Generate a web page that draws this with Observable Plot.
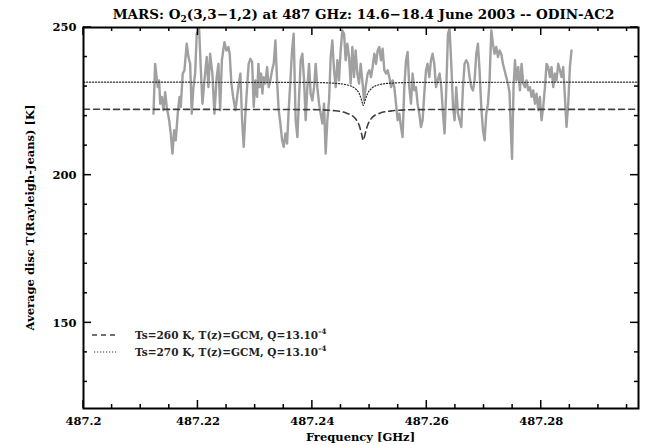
<!DOCTYPE html>
<html><head><meta charset="utf-8">
<script src="https://cdn.jsdelivr.net/npm/d3@7"></script>
<script src="https://cdn.jsdelivr.net/npm/@observablehq/plot@0.6"></script>
<style>
html,body{margin:0;padding:0;background:#fff;}
#wrap{width:653px;height:445px;}
</style></head><body><div id="wrap"></div>
<script>
// Observed spectrum (frequency GHz, brightness temperature K)
const freq = [487.21223,487.21252,487.21298,487.21322,487.21340,487.21368,487.21397,487.21427,487.21455,487.21497,
487.21525,487.21555,487.21584,487.21612,487.21647,487.21677,487.21700,487.21734,487.21764,487.21804,
487.21834,487.21864,487.21892,487.21921,487.21951,487.21979,487.22021,487.22049,487.22079,487.22114,
487.22154,487.22183,487.22213,487.22253,487.22288,487.22328,487.22358,487.22388,487.22419,487.22463,
487.22498,487.22533,487.22555,487.22585,487.22615,487.22655,487.22685,487.22713,487.22742,487.22772,
487.22800,487.22830,487.22859,487.22887,487.22917,487.22947,487.22975,487.23004,487.23034,487.23057,
487.23079,487.23104,487.23127,487.23149,487.23179,487.23209,487.23237,487.23266,487.23296,487.23324,
487.23354,487.23383,487.23411,487.23441,487.23471,487.23499,487.23528,487.23558,487.23586,487.23616,
487.23645,487.23673,487.23708,487.23738,487.23768,487.23796,487.23825,487.23855,487.23883,487.23913,
487.23942,487.23970,487.24000,487.24030,487.24058,487.24087,487.24117,487.24145,487.24175,487.24204,
487.24232,487.24262,487.24292,487.24320,487.24349,487.24379,487.24407,487.24437,487.24466,487.24494,
487.24524,487.24554,487.24582,487.24611,487.24641,487.24669,487.24699,487.24728,487.24756,487.24786,
487.24816,487.24844,487.24873,487.24903,487.24931,487.24966,487.24996,487.25025,487.25053,487.25083,
487.25113,487.25141,487.25170,487.25200,487.25228,487.25258,487.25287,487.25315,487.25345,487.25375,
487.25403,487.25432,487.25462,487.25490,487.25520,487.25549,487.25577,487.25607,487.25637,487.25665,
487.25694,487.25724,487.25752,487.25782,487.25811,487.25839,487.25869,487.25899,487.25927,487.25956,
487.25986,487.26014,487.26044,487.26073,487.26101,487.26131,487.26161,487.26189,487.26224,487.26253,
487.26283,487.26311,487.26341,487.26370,487.26398,487.26428,487.26458,487.26486,487.26515,487.26545,
487.26573,487.26603,487.26632,487.26660,487.26690,487.26720,487.26748,487.26777,487.26807,487.26835,
487.26865,487.26894,487.26922,487.26952,487.26982,487.27010,487.27039,487.27069,487.27097,487.27127,
487.27156,487.27184,487.27214,487.27244,487.27272,487.27301,487.27331,487.27359,487.27389,487.27418,
487.27446,487.27467,487.27490,487.27516,487.27541,487.27569,487.27598,487.27628,487.27656,487.27686,
487.27715,487.27743,487.27773,487.27803,487.27831,487.27860,487.27890,487.27918,487.27948,487.27977,
487.28005,487.28035,487.28065,487.28093,487.28122,487.28152,487.28180,487.28210,487.28239,487.28267,
487.28297,487.28327,487.28355,487.28384,487.28414,487.28442,487.28472,487.28501,487.28529];
const tb = [220.8,237.7,229.8,232.1,224.2,226.5,222.0,228.1,223.1,218.6,
214.1,207.3,215.2,211.8,220.8,226.5,223.1,234.4,235.5,244.5,
240.0,237.7,220.8,229.8,234.4,247.9,249.5,236.6,224.2,232.1,
240.0,229.8,241.1,234.4,220.8,233.2,237.7,222.0,239.0,245.0,
242.2,243.4,241.1,231.0,226.5,222.0,226.5,231.0,234.4,218.6,
209.6,220.8,229.8,237.7,239.4,238.3,223.1,232.1,226.5,237.7,
229.8,234.4,227.6,233.2,231.0,236.6,229.8,232.1,235.5,237.7,
245.6,232.1,222.0,217.5,211.8,209.6,214.1,210.7,222.0,232.1,
242.2,247.9,218.6,212.9,226.5,238.9,241.1,232.1,218.6,229.8,
237.7,227.6,225.3,229.8,237.7,229.8,224.2,220.8,217.5,224.2,
207.3,218.6,225.3,240.0,245.6,235.5,229.8,238.9,232.1,242.2,
249.0,247.9,238.9,244.5,240.0,231.0,243.4,233.2,242.2,234.4,
231.0,237.7,232.1,225.3,229.8,234.4,235.5,233.2,236.6,241.1,
237.7,242.2,243.4,238.9,242.8,235.5,234.4,235.5,233.2,229.8,
232.1,229.8,224.2,218.6,220.8,216.3,212.9,229.8,238.9,241.7,
229.8,224.2,234.4,228.7,229.8,224.2,220.8,216.3,218.6,227.6,
235.5,237.7,233.2,238.9,241.1,237.7,229.8,232.1,234.4,229.8,
220.8,214.1,229.8,247.9,249.5,237.7,223.1,218.6,229.8,220.8,
218.6,216.3,229.8,237.7,238.9,237.7,233.2,229.8,228.7,232.1,
241.1,244.5,235.5,223.1,215.2,211.8,220.8,224.2,232.1,249.0,
244.5,241.1,243.4,240.0,242.2,241.1,237.7,235.5,233.2,231.0,
228.0,216.0,205.5,229.8,238.9,232.1,236.6,228.7,237.7,231.0,
229.8,232.1,228.7,229.8,226.5,228.7,224.2,227.6,222.0,226.5,
218.6,223.1,229.8,237.7,236.6,233.2,236.6,229.8,234.4,232.1,
237.7,235.5,233.2,236.6,226.5,216.3,224.2,236.6,242.2];

// Model spectra
const modelFreq = [487.2,487.24,487.244,487.246,487.2475,487.2482,487.2486,487.2489,487.2492,487.2496,487.2503,487.2518,487.254,487.258,487.297];
const model260 = [222.3,222.2,221.8,221.0,219.2,216.8,214.0,211.8,213.8,216.6,219.2,221.0,221.8,222.2,222.3];
const model270 = [231.5,231.4,231.1,230.6,229.3,227.6,225.4,223.6,225.2,227.4,229.3,230.7,231.2,231.4,231.5];

// Axes
const xDomain = [487.2, 487.297];
const yDomain = [121, 250];
const xMajor = [487.2, 487.22, 487.24, 487.26, 487.28];
const xMinor = [487.205,487.21,487.215,487.225,487.23,487.235,487.245,487.25,487.255,487.265,487.27,487.275,487.285,487.29,487.295];
const yMajor = [150, 200, 250];
const yMinor = [130, 140, 160, 170, 180, 190, 210, 220, 230, 240];

const legendLabels = ["Ts=260 K, T(z)=GCM, Q=13.10", "Ts=270 K, T(z)=GCM, Q=13.10"];
const legendExp = "-4";

const obs = freq.map((f, i) => ({f, t: tb[i]}));
const m260 = modelFreq.map((f, i) => ({f, t: model260[i]}));
const m270 = modelFreq.map((f, i) => ({f, t: model270[i]}));

const FONT = "'DejaVu Serif', serif";

const plot = Plot.plot({
  width: 653, height: 445,
  marginTop: 27, marginBottom: 37, marginLeft: 83, marginRight: 15,
  style: {background: "white", fontFamily: FONT, fontSize: "11px", fontWeight: "bold", color: "black"},
  x: {domain: xDomain},
  y: {domain: yDomain},
  marks: [
    Plot.line(obs, {x: "f", y: "t", stroke: "#a0a0a0", strokeWidth: 2.4, clip: true}),
    Plot.line(m260, {x: "f", y: "t", stroke: "#404040", strokeWidth: 1.6, strokeDasharray: "6,4", curve: "monotone-x"}),
    Plot.line(m270, {x: "f", y: "t", stroke: "#303030", strokeWidth: 1.2, strokeDasharray: "1.2,1.8", curve: "monotone-x"}),
    Plot.axisX(xMajor, {tickSize: 0, tickPadding: 8, label: null, tickFormat: d => String(d), fontWeight: "bold", fontSize: 11.5}),
    Plot.axisY(yMajor, {tickSize: 0, tickPadding: 7, label: null, fontWeight: "bold", fontSize: 11.5}),
    Plot.frame({stroke: "black", strokeWidth: 2})
  ]
});

document.getElementById("wrap").appendChild(plot);

const sx = plot.scale("x"), sy = plot.scale("y");
const [X0, X1] = sx.range;
const yr = sy.range; const Y0 = Math.max(...yr), Y1 = Math.min(...yr);
const svg = d3.select(plot);
const g = svg.append("g").attr("stroke", "black").attr("stroke-width", 1.5);
function xt(v, len) {
  const x = sx.apply(v);
  g.append("line").attr("x1", x).attr("x2", x).attr("y1", Y0).attr("y2", Y0 - len);
  g.append("line").attr("x1", x).attr("x2", x).attr("y1", Y1).attr("y2", Y1 + len);
}
function yt(v, len) {
  const y = sy.apply(v);
  g.append("line").attr("x1", X0).attr("x2", X0 + len).attr("y1", y).attr("y2", y);
  g.append("line").attr("x1", X1).attr("x2", X1 - len).attr("y1", y).attr("y2", y);
}
xMajor.forEach(v => xt(v, 8)); xMinor.forEach(v => xt(v, 4));
yMajor.forEach(v => yt(v, 8)); yMinor.forEach(v => yt(v, 4));

const cx = (X0 + X1) / 2;
// Title
const title = svg.append("text").attr("x", cx + 3).attr("y", 19).attr("text-anchor", "middle")
  .attr("font-family", FONT).attr("font-weight", "bold").attr("font-size", 13.5).attr("fill", "black");
title.append("tspan").text("MARS: O");
title.append("tspan").attr("font-size", 9).attr("dy", 3).text("2");
title.append("tspan").attr("dy", -3).text("(3,3\u22121,2) at 487 GHz: 14.6\u221218.4 June 2003 -- ODIN-AC2");

// Axis labels
svg.append("text").attr("x", cx).attr("y", 441).attr("text-anchor", "middle")
  .attr("font-family", FONT).attr("font-weight", "bold").attr("font-size", 11.5).text("Frequency [GHz]");
svg.append("text").attr("transform", `translate(34,${(Y0 + Y1) / 2}) rotate(-90)`).attr("text-anchor", "middle")
  .attr("font-family", FONT).attr("font-weight", "bold").attr("font-size", 11.5).text("Average disc T(Rayleigh-Jeans) [K]");

// Legend
const lg = svg.append("g").attr("font-family", FONT).attr("font-weight", "bold").attr("font-size", 10.5)
  .attr("fill", "#222").attr("text-anchor", "start");
lg.append("line").attr("x1", 92).attr("x2", 116).attr("y1", 335).attr("y2", 335)
  .attr("stroke", "#404040").attr("stroke-width", 1.6).attr("stroke-dasharray", "5,4");
lg.append("line").attr("x1", 94).attr("x2", 116).attr("y1", 352).attr("y2", 352)
  .attr("stroke", "#303030").attr("stroke-width", 1.2).attr("stroke-dasharray", "1.2,1.8");
[335, 352].forEach((y, i) => {
  const t = lg.append("text").attr("x", 135).attr("y", y + 3.5).attr("text-anchor", "start");
  t.append("tspan").text(legendLabels[i]);
  t.append("tspan").attr("font-size", 7.5).attr("dy", -5).text(legendExp);
});
</script></body></html>
